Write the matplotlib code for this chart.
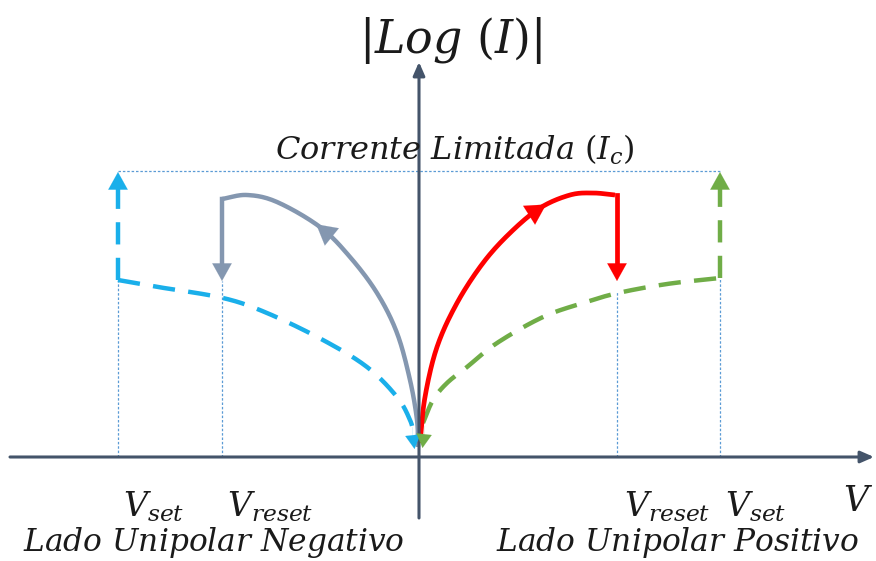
import numpy as np
import matplotlib
matplotlib.use("Agg")
import matplotlib.pyplot as plt

plt.rcParams['mathtext.fontset'] = 'dejavuserif'

# ---- data (V, |log I|) in schematic units ----
blue_v = [-3.01, -2.61, -1.96, -1.52, -0.96, -0.52, -0.22, -0.09, -0.05]
blue_l = [1.77, 1.70, 1.59, 1.44, 1.17, 0.90, 0.60, 0.37, 0.22]

gray_v = [-0.01, -0.02, -0.09, -0.22, -0.42, -0.69, -0.99, -1.42, -1.72, -1.97]
gray_l = [0.10, 0.37, 0.77, 1.24, 1.64, 2.00, 2.30, 2.55, 2.62, 2.58]

red_v = [0.01, 0.06, 0.18, 0.38, 0.64, 0.91, 1.21, 1.51, 1.74, 1.96]
red_l = [0.14, 0.60, 1.10, 1.54, 1.94, 2.24, 2.49, 2.62, 2.64, 2.62]

green_v = [0.04, 0.14, 0.28, 0.48, 0.78, 1.24, 1.64, 1.99, 2.48, 3.01]
green_l = [0.34, 0.57, 0.74, 0.90, 1.14, 1.40, 1.54, 1.64, 1.73, 1.79]

v_set_neg, v_reset_neg = -3.01, -1.97
v_reset_pos, v_set_pos = 1.98, 3.01
l_compliance = 2.86
l_reset_low = 1.76

tick_labels = [r'$V_{set}$', r'$V_{reset}$', r'$V_{reset}$', r'$V_{set}$']
side_labels = [r'$Lado\ Unipolar\ Negativo$', r'$Lado\ Unipolar\ Positivo$']

C_BLUE = '#1AAFEA'
C_GRAY = '#8497B0'
C_RED = '#FF0000'
C_GREEN = '#70AD47'
C_AX = '#44546A'
C_DOT = '#5B9BD5'
C_TXT = '#1a1a1a'


def smooth(xs, ys, n=20):
    """Catmull-Rom rendering through the read points."""
    P = np.column_stack([xs, ys]).astype(float)
    P = np.vstack([2 * P[0] - P[1], P, 2 * P[-1] - P[-2]])
    out = []
    for i in range(1, len(P) - 2):
        p0, p1, p2, p3 = P[i - 1], P[i], P[i + 1], P[i + 2]
        t = np.linspace(0, 1, n, endpoint=False)[:, None]
        seg = 0.5 * ((2 * p1) + (-p0 + p2) * t + (2 * p0 - 5 * p1 + 4 * p2 - p3) * t ** 2
                     + (-p0 + 3 * p1 - 3 * p2 + p3) * t ** 3)
        out.append(seg)
    out.append(P[-2][None, :])
    S = np.vstack(out)
    return S[:, 0], S[:, 1]


fig = plt.figure(figsize=(8.76, 5.61), dpi=100)
ax = fig.add_axes([0, 0, 1, 1])
ax.set_xlim(-4.19, 4.57)
ax.set_ylim(-1.04, 4.57)
ax.axis('off')

# axes arrows
ax.annotate('', xy=(4.55, 0), xytext=(-4.09, 0),
            arrowprops=dict(arrowstyle='-|>,head_length=0.8,head_width=0.35', color=C_AX, lw=2.2,
                            shrinkA=0, shrinkB=0))
ax.annotate('', xy=(0, 3.95), xytext=(0, -0.61),
            arrowprops=dict(arrowstyle='-|>,head_length=0.8,head_width=0.35', color=C_AX, lw=2.2,
                            shrinkA=0, shrinkB=0))

# dotted guides
dot = dict(color=C_DOT, lw=0.9, ls=(0, (2, 1.5)))
ax.plot([v_set_neg, v_set_pos], [l_compliance, l_compliance], **dot)
ax.plot([v_set_neg, v_set_neg], [0, blue_l[0]], **dot)
ax.plot([v_reset_neg, v_reset_neg], [0, l_reset_low], **dot)
ax.plot([v_reset_pos, v_reset_pos], [0, l_reset_low - 0.1], **dot)
ax.plot([v_set_pos, v_set_pos], [0, green_l[-1]], **dot)

dash = (0, (5, 3))
aw = 'head_length=0.9,head_width=0.5'
LW_D = 3.2


def head(p_from, p_to, color, ms=14):
    ax.annotate('', xy=p_to, xytext=p_from,
                arrowprops=dict(arrowstyle='-|>,' + aw, color=color, lw=0.1,
                                shrinkA=0, shrinkB=0, mutation_scale=ms))


# blue dashed (negative HRS)
bx, by = smooth(blue_v, blue_l)
ax.plot(bx, by, color=C_BLUE, lw=LW_D, ls=dash, dash_capstyle='butt')
ax.plot([v_set_neg, v_set_neg], [blue_l[0], l_compliance - 0.12], color=C_BLUE, lw=LW_D, ls=dash)
head((v_set_neg, l_compliance - 0.3), (v_set_neg, l_compliance - 0.01), C_BLUE)
head((-0.07, 0.30), (-0.045, 0.08), C_BLUE, ms=11)

# green dashed (positive HRS)
gx, gy = smooth(green_v, green_l)
ax.plot(gx, gy, color=C_GREEN, lw=LW_D, ls=dash, dash_capstyle='butt')
ax.plot([v_set_pos, v_set_pos], [green_l[-1], l_compliance - 0.12], color=C_GREEN, lw=LW_D, ls=dash)
head((v_set_pos, l_compliance - 0.3), (v_set_pos, l_compliance - 0.01), C_GREEN)
head((0.06, 0.31), (0.035, 0.09), C_GREEN, ms=11)

# gray solid (negative LRS)
hx, hy = smooth(gray_v, gray_l)
ax.plot(hx, hy, color=C_GRAY, lw=3.2, solid_capstyle='butt')
ax.plot([v_reset_neg, v_reset_neg], [gray_l[-1], l_reset_low + 0.15], color=C_GRAY, lw=3.2)
head((v_reset_neg, l_reset_low + 0.3), (v_reset_neg, l_reset_low), C_GRAY)
k = 6 * 20 + 2
head((hx[k - 8], hy[k - 8]), (hx[k], hy[k]), C_GRAY, ms=16)

# red solid (positive LRS)
rx, ry = smooth(red_v, red_l)
ax.plot(rx, ry, color=C_RED, lw=3.4, solid_capstyle='butt')
ax.plot([v_reset_pos, v_reset_pos], [red_l[-1], l_reset_low + 0.15], color=C_RED, lw=3.4)
head((v_reset_pos, l_reset_low + 0.3), (v_reset_pos, l_reset_low), C_RED)
k = 6 * 20 + 4
head((rx[k - 8], ry[k - 8]), (rx[k], ry[k]), C_RED, ms=16)

# texts
ax.text(0.31, 4.17, r'$|Log\ (I)|$', fontsize=33, ha='center', va='center', color=C_TXT)
ax.text(0.36, 3.07, r'$Corrente\ Limitada\ (I_c)$', fontsize=23, ha='center', va='center',
        color=C_TXT)
ax.text(-2.65, -0.50, tick_labels[0], fontsize=24, ha='center', va='center', color=C_TXT)
ax.text(-1.49, -0.50, tick_labels[1], fontsize=24, ha='center', va='center', color=C_TXT)
ax.text(2.48, -0.50, tick_labels[2], fontsize=24, ha='center', va='center', color=C_TXT)
ax.text(3.37, -0.50, tick_labels[3], fontsize=24, ha='center', va='center', color=C_TXT)
ax.text(-2.05, -0.86, side_labels[0], fontsize=22.5, ha='center', va='center', color=C_TXT)
ax.text(2.58, -0.86, side_labels[1], fontsize=22.5, ha='center', va='center', color=C_TXT)
ax.text(4.24, -0.44, r'$V$', fontsize=25, ha='left', va='center', color=C_TXT)

fig.savefig('out.png', dpi=100)
